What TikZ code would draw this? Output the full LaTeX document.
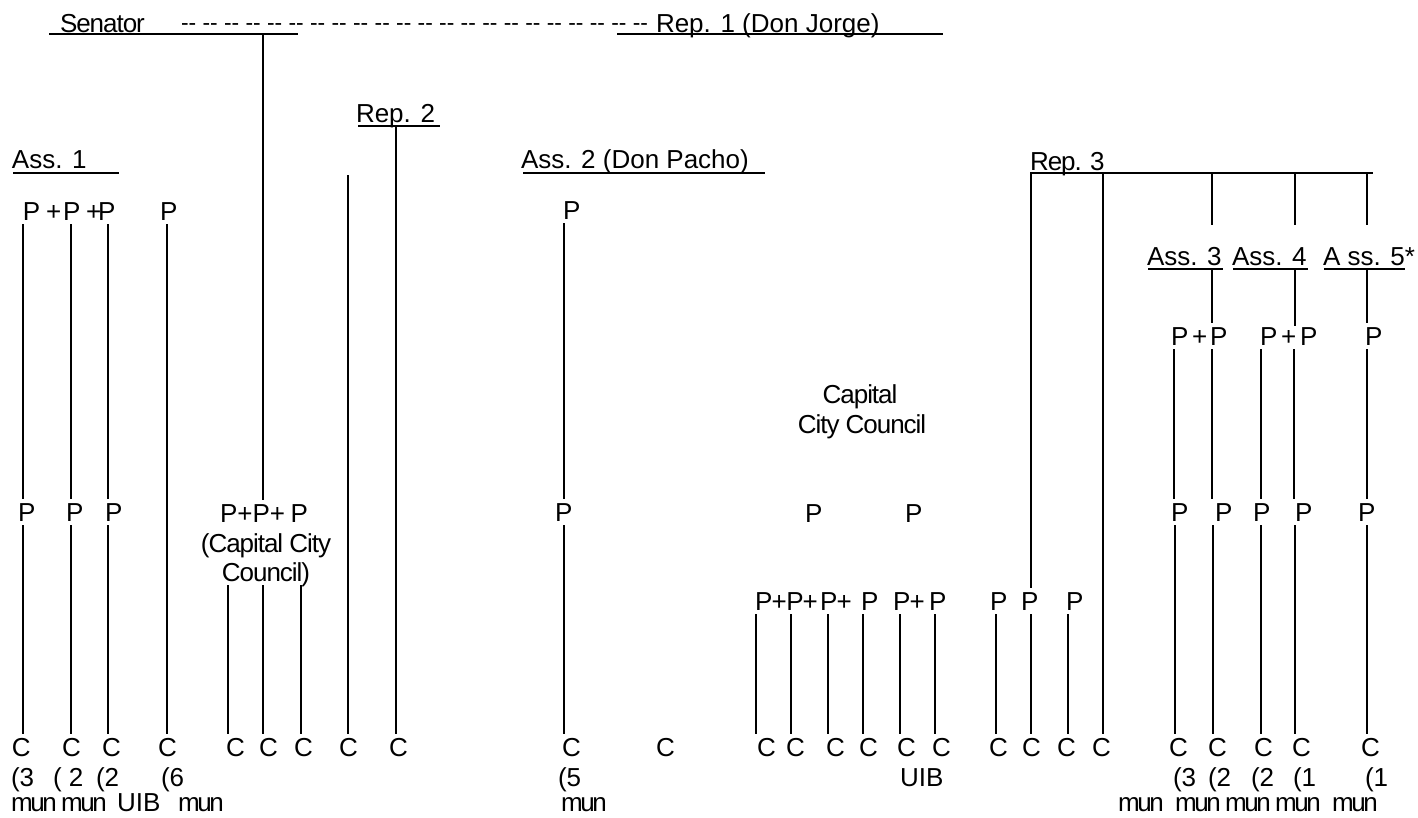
\documentclass[tikz,border=0pt]{standalone}
\usepackage{fontspec}
\setmainfont{Liberation Sans}
\newfontfamily\condensed{Liberation Sans}[LetterSpace=-4]
\newfontfamily\tight{Liberation Sans}[LetterSpace=-9]
\newcommand\fs{\fontsize{26}{30}\selectfont}
\newcommand\hh{-\kern0pt-}
% vertical connector at a given x between two anchors
\newcommand\vl[3]{\draw[ln] (#2 -| #1,0) -- (#3 -| #1,0);}

\begin{document}
\begin{tikzpicture}[x=1pt,y=-1pt,
  lab/.style={inner sep=0pt,outer xsep=0pt,outer ysep=4pt,text depth=0pt,anchor=base west,font=\fs},
  mid/.style={lab,anchor=base},
  note/.style={lab,outer ysep=0pt},
  ln/.style={line width=2.4pt},
  bar/.style={line width=1.6pt}]
\useasboundingbox (0,0) rectangle (1418,817);

% headings
\node[lab] (sen) at (60,32) {\condensed Senator};
\node[lab,font=\fontsize{22.8}{26}\selectfont] (dsh) at (181,30)
  {\hh{} \hh{} \hh{} \hh{} \hh{} \hh{} \hh{} \hh{} \hh{} \hh{} \hh{} \hh{} \hh{} \hh{} \hh{} \hh{} \hh{} \hh{} \hh{} \hh{} \hh{} \hh};
\node[lab] (rep1) at (656,32) {Rep. 1 (Don Jorge)};
\node[lab] (rep2) at (356,122) {Rep. 2};
\node[lab] (ass1) at (12,168) {Ass. 1};
\node[lab] (ass2) at (521,168) {Ass. 2 (Don Pacho)};
\node[lab] (rep3) at (1030,170) {\condensed Rep. 3};
\node[lab] (ass3) at (1147,265) {Ass. 3};
\node[lab] (ass4) at (1232,265) {Ass. 4};
\node[lab] (ass5) at (1323,265) {A ss. 5*};

% underlines and bars
\coordinate (senL) at (49,34);   \coordinate (senR) at (298,34);
\coordinate (r1L) at (617,34);   \coordinate (r1R) at (943,34);
\coordinate (r2L) at (358,126);  \coordinate (r2R) at (440,126);
\coordinate (a1L) at (13,173);   \coordinate (a1R) at (119,173);
\coordinate (a2L) at (523,173);  \coordinate (a2R) at (765,173);
\coordinate (r3L) at (1030,173); \coordinate (r3R) at (1373,173);
\coordinate (a3L) at (1148,269); \coordinate (a3R) at (1223,269);
\coordinate (a4L) at (1233,269); \coordinate (a4R) at (1308,269);
\coordinate (a5L) at (1324,269); \coordinate (a5R) at (1405,269);
\foreach \b in {sen,r1,r2,a1,a2,r3,a3,a4,a5} \draw[bar] (\b L) -- (\b R);

% first row of parties
\node[lab] (a1p) at (23,220) {P};
\node[lab] (a1s) at (46,220) {+};
\node[lab] (a2p) at (63,220) {P};
\node[lab] (a2s) at (86,220) {+};
\node[lab] (a3p) at (98,220) {P};
\node[lab] (a4p) at (160,220) {P};
\node[lab] (b1p) at (563,219) {P};

% parties under Ass. 3-5
\node[lab] (q1) at (1171,345) {P};
\node[lab] (q1s) at (1192,345) {+};
\node[lab] (q2) at (1210,345) {P};
\node[lab] (q3) at (1260,345) {P};
\node[lab] (q3s) at (1281,345) {+};
\node[lab] (q4) at (1300,345) {P};
\node[lab] (q5) at (1365,345) {P};

% Capital City Council
\node[mid] (ccA) at (860,403) {\condensed Capital};
\node[mid] (ccB) at (862,433) {\condensed City Council};

% middle row of parties
\node[lab] (m1) at (18,521) {P};
\node[lab] (m2) at (66,521) {P};
\node[lab] (m3) at (105,521) {P};
\node[lab] (k1) at (220,522) {P};
\node[lab] (k1s) at (237.3,522) {+};
\node[lab] (k2) at (252.5,522) {P};
\node[lab] (k2s) at (269.9,522) {+};
\node[lab] (k3) at (290.5,522) {P};
\node[mid] (capA) at (266,552) {\condensed (Capital City};
\node[mid] (capB) at (266,581) {\condensed Council)};
\node[lab] (m4) at (555,521) {P};
\node[lab] (cc1) at (805,522) {P};
\node[lab] (cc2) at (905,522) {P};
\node[lab] (m5) at (1171,521) {P};
\node[lab] (m6) at (1215,521) {P};
\node[lab] (m7) at (1253,521) {P};
\node[lab] (m8) at (1295,521) {P};
\node[lab] (m9) at (1358,521) {P};

% lower row of parties
\node[lab] (n1) at (755,610) {P};
\node[lab] (n1s) at (771.5,610) {+};
\node[lab] (n2) at (786.3,610) {P};
\node[lab] (n2s) at (802.5,610) {+};
\node[lab] (n3) at (820,610) {P};
\node[lab] (n3s) at (836.5,610) {+};
\node[lab] (n4) at (861,610) {P};
\node[lab] (n5) at (893,610) {P};
\node[lab] (n5s) at (909.5,610) {+};
\node[lab] (n6) at (929,610) {P};
\node[lab] (n7) at (990,610) {P};
\node[lab] (n8) at (1021,610) {P};
\node[lab] (n9) at (1066,610) {P};

% councils
\foreach \x [count=\i] in {12,62,102,158,226,259,294,339,389,562,656,757,786,826,859,897,932,989,1022,1057,1092,1169,1208,1254,1292,1361}
  \node[lab] (c\i) at (\x,756) {C};

% municipality counts
\node[note] (u1) at (11,786) {(3};
\node[note] (u2) at (53,786) {( 2};
\node[note] (u3) at (96,786) {(2};
\node[note] (u4) at (161,786) {(6};
\node[note] (u5) at (558,786) {(5};
\node[note] (u6) at (900,786) {UIB};
\node[note] (u7) at (1173,786) {(3};
\node[note] (u8) at (1208,786) {(2};
\node[note] (u9) at (1251,786) {(2};
\node[note] (u10) at (1293,786) {(1};
\node[note] (u11) at (1365,786) {(1};

\node[note] (w1) at (11,811) {\tight mun};
\node[note] (w2) at (61,811) {\tight mun};
\node[note] (w3) at (117,811) {UIB};
\node[note] (w4) at (178,811) {\tight mun};
\node[note] (w5) at (561,811) {\tight mun};
\node[note] (w6) at (1118,811) {\tight mun};
\node[note] (w7) at (1175,811) {\tight mun};
\node[note] (w8) at (1225,811) {\tight mun};
\node[note] (w9) at (1275,811) {\tight mun};
\node[note] (w10) at (1332,811) {\tight mun};

% free line ends
\coordinate (topL) at (348,175);
\coordinate (e3) at (1212,225);
\coordinate (e4) at (1295,225);
\coordinate (e5) at (1367,225);

% Ass. 1 and Senator
\vl{23}{a1p.south}{m1.north}  \vl{23}{m1.south}{c1.north}
\vl{71}{a2p.south}{m2.north}  \vl{71}{m2.south}{c2.north}
\vl{108}{a3p.south}{m3.north} \vl{108}{m3.south}{c3.north}
\vl{167}{a4p.south}{c4.north}
\vl{263}{senL}{k2.north}
\vl{228}{capB.south}{c5.north}
\vl{263}{capB.south}{c6.north}
\vl{301}{capB.south}{c7.north}
\vl{348}{topL}{c8.north}
\vl{396}{r2L}{c9.north}
% Ass. 2
\vl{564}{b1p.south}{m4.north} \vl{564}{m4.south}{c10.north}
% lower parties
\vl{756}{n1.south}{c12.north}
\vl{791}{n2.south}{c13.north}
\vl{828}{n3.south}{c14.north}
\vl{863}{n4.south}{c15.north}
\vl{900}{n5.south}{c16.north}
\vl{935}{n6.south}{c17.north}
\vl{996}{n7.south}{c18.north}
% Rep. 3
\vl{1031}{r3L}{n8.north} \vl{1031}{n8.south}{c19.north}
\vl{1068}{n9.south}{c20.north}
\vl{1103}{r3L}{c21.north}
\vl{1212}{r3L}{e3}
\vl{1295}{r3L}{e4}
\vl{1367}{r3L}{e5}
% Ass. 3-5
\vl{1212}{a3L}{q2.north}
\vl{1295}{a4L}{q3s.north}
\vl{1367}{a5L}{q5.north}
\vl{1174}{q1.south}{m5.north}
\vl{1212}{q2.south}{m6.north}
\vl{1261}{q3.south}{m7.north}
\vl{1294}{q3s.south}{m8.north}
\vl{1367}{q5.south}{m9.north}
\vl{1175}{m5.south}{c22.north}
\vl{1213}{m6.south}{c23.north}
\vl{1261}{m7.south}{c24.north}
\vl{1295}{m8.south}{c25.north}
\vl{1367}{m9.south}{c26.north}
\end{tikzpicture}
\end{document}
